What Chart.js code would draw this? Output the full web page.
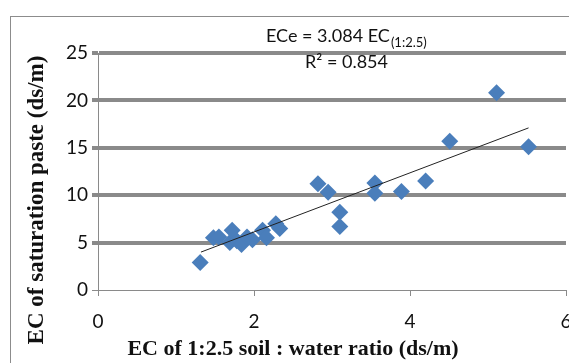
<!DOCTYPE html>
<html>
<head>
<meta charset="utf-8">
<script src="https://cdn.jsdelivr.net/npm/chart.js@4"></script>
<style>
  html, body { margin: 0; padding: 0; background: #fff; overflow: hidden; }
  canvas { display: block; }
</style>
</head>
<body>
<!-- a bit wider than the window: the original is cropped on the right, through the "6" -->
<canvas id="ecChart" width="575" height="363"></canvas>
<script>
// measured points (EC 1:2.5 vs ECe)
const ec125 = [1.31, 1.48, 1.55, 1.69, 1.72, 1.78, 1.84, 1.91, 1.98, 2.11, 2.16, 2.28, 2.33, 2.82, 2.95, 3.10, 3.10, 3.55, 3.55, 3.89, 4.20, 4.51, 5.11, 5.52];
const ecSat = [2.9, 5.5, 5.6, 5.0, 6.3, 5.2, 4.8, 5.6, 5.3, 6.3, 5.5, 7.0, 6.5, 11.2, 10.3, 8.2, 6.7, 11.3, 10.2, 10.4, 11.5, 15.7, 20.8, 15.1];

// trend line ends
const trendX = [1.32, 5.52];
const trendY = [4.0, 17.1];

const xTicks = [0, 2, 4, 6];
const yTicks = [0, 5, 10, 15, 20, 25];

const xTitle = "EC of 1:2.5 soil : water ratio (ds/m)";
const yTitle = "EC of saturation paste (ds/m)";
const eqMain = "ECe = 3.084 EC";
const eqSub = "(1:2.5)";
const r2Text = "R² = 0.854";

const blue = "#4a7ebb";
const gridGray = "#8a8a8a";

// frame round the whole chart, axis titles (off-centre in the original), equation text
const extras = {
    id: "extras",
    afterDraw(chart) {
        const ctx = chart.ctx;
        ctx.save();
        ctx.strokeStyle = "#8c8c8c";
        ctx.lineWidth = 1;
        ctx.strokeRect(10.5, 16.5, 700, 500);

        ctx.fillStyle = "#111";
        ctx.textAlign = "center";
        ctx.textBaseline = "middle";
        ctx.font = "bold 22px 'Liberation Serif'";
        ctx.fillText(xTitle, 293, 349);
        ctx.save();
        ctx.translate(37, 200);
        ctx.rotate(-Math.PI / 2);
        ctx.font = "bold 23px 'Liberation Serif'";
        ctx.fillText(yTitle, 0, 0);
        ctx.restore();

        ctx.textAlign = "left";
        ctx.textBaseline = "alphabetic";
        ctx.font = "18px Lato";
        ctx.fillText(eqMain, 266, 42);
        let w = ctx.measureText(eqMain).width;
        ctx.font = "13px Lato";
        ctx.fillText(eqSub, 266 + w + 1, 47);
        ctx.font = "18px Lato";
        ctx.fillText(r2Text, 305, 68);
        ctx.restore();
    }
};

let ctx = document.getElementById("ecChart").getContext("2d");

new Chart(ctx, {
    type: "scatter",
    data: {
        datasets: [
            {
                label: "points",
                data: ec125.map((x, i) => ({ x: x, y: ecSat[i] })),
                backgroundColor: blue,
                borderColor: blue,
                pointStyle: "rectRot",
                pointRadius: 8.5,
                pointBorderWidth: 0,
                order: 2
            },
            {
                label: "trend",
                type: "line",
                data: trendX.map((x, i) => ({ x: x, y: trendY[i] })),
                borderColor: "#222",
                borderWidth: 1,
                pointRadius: 0,
                fill: false,
                order: 1
            }
        ]
    },
    options: {
        responsive: false,
        animation: false,
        devicePixelRatio: 1,
        layout: { padding: { left: 20, right: 9, top: 53, bottom: 0 } },
        plugins: {
            legend: { display: false },
            tooltip: { enabled: false }
        },
        scales: {
            x: {
                type: "linear",
                min: 0,
                max: 6,
                afterBuildTicks: s => { s.ticks = xTicks.map(v => ({ value: v })); },
                afterFit: s => { s.height = 73; s.paddingLeft = 0; s.paddingRight = 0; },
                border: { color: gridGray, width: 1 },
                grid: { drawOnChartArea: false, drawTicks: true, tickLength: 6, color: gridGray, lineWidth: 1 },
                ticks: { padding: 14, color: "#111", font: { family: "Lato", size: 19 }, maxRotation: 0 }
            },
            y: {
                min: 0,
                max: 25,
                afterBuildTicks: s => { s.ticks = yTicks.map(v => ({ value: v })); },
                afterFit: s => { s.width = 78; s.paddingTop = 0; s.paddingBottom = 0; },
                border: { color: gridGray, width: 1 },
                grid: {
                    color: c => c.tick && c.tick.value === 0 ? "rgba(0,0,0,0)" : gridGray,
                    lineWidth: c => c.tick && c.tick.value === 0 ? 1 : 4,
                    tickColor: gridGray,
                    tickWidth: c => c.tick && c.tick.value === 0 ? 1 : 4,
                    tickLength: 6
                },
                ticks: { padding: 4, color: "#111", font: { family: "Lato", size: 19 } }
            }
        }
    },
    plugins: [extras]
});
</script>
</body>
</html>
